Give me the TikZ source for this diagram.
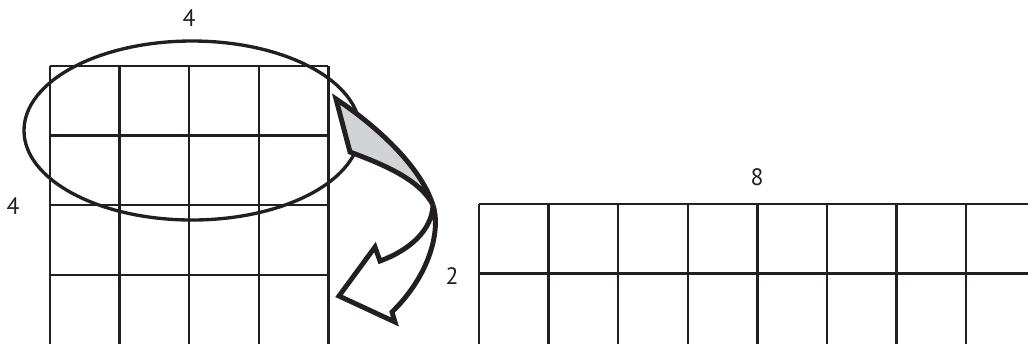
\documentclass[tikz,border=0pt]{standalone}
\usepackage{fontspec}
\setmainfont{PT Sans}
\usetikzlibrary{positioning}
\usepackage{xcolor}
\definecolor{inkblack}{HTML}{231F20}
\definecolor{foldgray}{HTML}{D1D3D4}

\begin{document}
\begin{tikzpicture}[
    x=0.02cm, y=-0.02cm,
    font=\fontsize{13.5}{15}\selectfont,
    % Estilos
    gridline/.style={
        draw=inkblack,
        line width=1.3pt
    },
    ringline/.style={
        draw=inkblack,
        line width=1.9pt
    },
    bentarrow/.style={
        draw=inkblack,
        line width=2.8pt,
        line join=miter,
        miter limit=4
    },
    dimlabel/.style={
        text=inkblack,
        inner sep=0pt
    }
]
    \useasboundingbox (0,0) rectangle (1028,343);
    \clip (0,0) rectangle (1028,343);

    % ==========================================
    % 1. SQUARE GRID 4 x 4 (Izquierda)
    % ==========================================
    \coordinate (sq) at (50,66);
    \foreach \i in {0,...,4}
        \draw[gridline] (50+69.6*\i,66) -- (50+69.6*\i,350);
    \foreach \j in {0,...,3}
        \draw[gridline] (50,66+69.6*\j) -- (328.4,66+69.6*\j);

    \node[dimlabel] (sqtop) at (189,18) {4};
    \node[dimlabel] (sqside) at (13,206) {4};

    % ==========================================
    % 2. RECTANGLE 8 x 2 (Derecha)
    % ==========================================
    \coordinate (rect) at (479,204);
    \foreach \i in {0,...,8}
        \draw[gridline] (479+69.6*\i,204) -- (479+69.6*\i,350);
    \foreach \j in {0,1}
        \draw[gridline] (479,204+69.6*\j) -- (1040,204+69.6*\j);

    \node[dimlabel] (recttop) at (757,177) {8};
    \node[dimlabel] (rectside) at (452,276) {2};

    % ==========================================
    % 3. ELLIPSE ROUND THE TOP TWO ROWS
    % ==========================================
    \draw[ringline] (192,130.5) ellipse [x radius=168, y radius=89.5];

    % ==========================================
    % 4. TWISTED ARROW
    % ==========================================
    % Cara plegada
    \filldraw[bentarrow, fill=foldgray] (336,99)
        .. controls (375,125) and (420,165) .. (433,205) coordinate (twist)
        .. controls (420,180) and (385,165) .. (350,152) -- cycle;
    % Cuerpo y punta
    \filldraw[bentarrow, fill=white] (twist)
        .. controls (441,230) and (430,275) .. (392,312)
        -- (395,322) -- (339,296) -- (375,247) -- (380,261)
        .. controls (410,250) and (432,230) .. (twist) -- cycle;

\end{tikzpicture}
\end{document}
